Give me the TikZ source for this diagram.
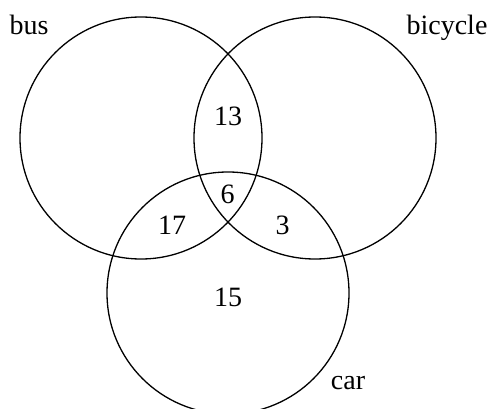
\documentclass[tikz,border=0pt]{standalone}
\usepackage{fontspec}
\setmainfont{Liberation Serif}
\begin{document}
\begin{tikzpicture}[x=1pt,y=1pt,
  setcircle/.style={circle, draw, line width=1.3pt, minimum size=242pt, inner sep=0pt},
  lbl/.style={anchor=base, inner sep=0pt, font=\fontsize{28}{30}\selectfont}]
\useasboundingbox (0,0) rectangle (493,408);
\node[setcircle] (bus) at (141,270) {};
\node[setcircle] (bicycle) at (315,270) {};
\node[setcircle] (car) at (228,115) {};
\node[lbl] (tbus) at (29,373) {bus};
\node[lbl] (tbicycle) at (447,373) {bicycle};
\node[lbl] (tcar) at (348,19) {car};
\node[lbl] (n13) at (228,283) {13};
\node[lbl] (n6) at (227.5,205) {6};
\node[lbl] (n17) at (172,174) {17};
\node[lbl] (n3) at (282.5,174) {3};
\node[lbl] (n15) at (228,102) {15};
\end{tikzpicture}
\end{document}
